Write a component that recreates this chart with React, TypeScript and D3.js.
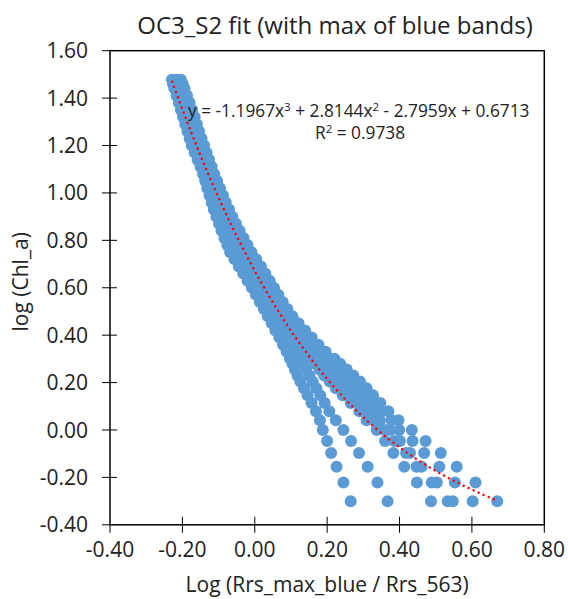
import React from "react";
import * as d3 from "d3";

// log(Chl_a) levels (shared by every branch of points)
const logChl = [
  -0.301, -0.222, -0.155, -0.097, -0.046, 0.0, 0.041, 0.079, 0.114, 0.146, 0.176, 0.204, 0.23, 0.255, 0.279, 0.301,
  0.33, 0.36, 0.39, 0.42, 0.45, 0.48, 0.51, 0.54, 0.57, 0.6,
  0.63, 0.66, 0.69, 0.72, 0.75, 0.78, 0.81, 0.84, 0.87, 0.9, 0.93, 0.96, 0.99, 1.02, 1.05,
  1.08, 1.11, 1.14, 1.17, 1.2, 1.23, 1.26, 1.29, 1.32, 1.35, 1.38, 1.41, 1.44, 1.46, 1.477,
];

// Log(Rrs_max_blue / Rrs_563) for each branch of the point cloud, one value per level (null = no point)
const branchA = [
  0.265, 0.245, 0.226, 0.211, 0.2, 0.188, 0.18, 0.169, 0.157, 0.146, 0.136, 0.126, 0.118, 0.111, 0.104, 0.097,
  0.088, 0.078, 0.068, 0.057, 0.047, 0.036, 0.025, 0.014, 0.003, -0.008,
  -0.02, -0.032, -0.044, -0.056, -0.068, -0.076, -0.084, -0.092, -0.099, -0.106, -0.113, -0.119, -0.125, -0.131, -0.137,
  -0.143, -0.15, -0.158, -0.166, -0.174, -0.18, -0.186, -0.192, -0.198, -0.204, -0.21, -0.216, -0.222, -0.226, -0.229,
];
const branchB = [
  0.367, 0.339, 0.312, 0.288, 0.266, 0.245, 0.224, 0.206, 0.193, 0.181, 0.17, 0.16, 0.151, 0.142, 0.133, 0.126,
  0.116, 0.106, 0.098, 0.084, 0.072, 0.059, 0.047, 0.035, 0.024, 0.012,
  null, null, null, null, null, null, null, null, null, null, null, null, null, null, null,
  null, null, null, null, null, null, null, null, null, null, null, null, null, null, null,
];
const branchC = [
  0.487, 0.448, 0.413, 0.383, 0.36, 0.337, 0.309, 0.289, 0.265, 0.243, 0.224, 0.207, 0.192, 0.179, 0.167, 0.157,
  0.144, 0.132, null, null, null, null, null, null, null, null,
  0.01, -0.002, -0.014, -0.026, -0.039, -0.048, -0.058, -0.067, -0.076, -0.084, -0.092, -0.1, -0.107, -0.114, -0.121,
  -0.128, -0.135, -0.142, -0.15, -0.157, -0.164, -0.17, -0.176, -0.182, -0.189, -0.195, -0.202, -0.208, -0.213, -0.217,
];
const branchD = [
  0.533, 0.489, 0.447, 0.418, 0.386, 0.36, 0.332, 0.307, 0.288, 0.27, 0.254, 0.239, 0.222, 0.207, 0.194, 0.182,
  0.167, 0.152, 0.127, 0.112, 0.096, 0.081, 0.068, 0.056, 0.044, 0.033,
  null, null, null, null, null, null, null, null, null, null, null, null, null, null, null,
  null, null, null, null, null, null, null, null, null, null, null, null, null, null, null,
];
const branchE = [
  0.547, 0.503, 0.461, 0.429, 0.401, 0.374, 0.346, 0.321, 0.302, 0.285, 0.269, 0.254, 0.238, 0.223, 0.209, 0.196,
  0.18, 0.163, null, null, null, null, null, null, null, null,
  null, null, null, null, null, null, null, null, null, null, null, null, null, null, null,
  null, null, null, null, null, null, null, null, null, null, null, null, null, null, null,
];
const branchF = [
  0.602, 0.553, 0.51, 0.468, 0.436, 0.399, 0.378, 0.346, 0.325, 0.306, 0.289, 0.273, 0.256, 0.239, 0.223, 0.208,
  0.188, 0.17, null, null, null, null, null, null, null, null,
  null, null, null, null, null, null, null, null, null, null, null, null, null, null, null,
  null, null, null, null, null, null, null, null, null, null, null, null, null, null, null,
];
const branchG = [
  0.67, 0.61, 0.558, 0.514, 0.472, 0.434, 0.397, 0.369, 0.347, 0.327, 0.309, 0.291, 0.272, 0.254, 0.236, 0.22,
  0.196, 0.176, 0.157, 0.139, 0.121, 0.104, 0.09, 0.077, 0.065, 0.053,
  0.041, 0.029, 0.017, 0.004, -0.009, -0.02, -0.031, -0.042, -0.052, -0.062, -0.071, -0.08, -0.088, -0.096, -0.104,
  -0.112, -0.119, -0.126, -0.133, -0.14, -0.147, -0.154, -0.16, -0.166, -0.173, -0.18, -0.187, -0.194, -0.199, -0.204,
];

// polynomial trendline coefficients: x^3, x^2, x, constant
const trendCoef = [-1.1967, 2.8144, -2.7959, 0.6713];
const rSquared = "0.9738";

const xTicks = [-0.4, -0.2, 0.0, 0.2, 0.4, 0.6, 0.8];
const yTicks = [-0.4, -0.2, 0.0, 0.2, 0.4, 0.6, 0.8, 1.0, 1.2, 1.4, 1.6];

const titleText = "OC3_S2 fit (with max of blue bands)";
const xTitle = "Log (Rrs_max_blue / Rrs_563)";
const yTitle = "log (Chl_a)";

const W = 568;
const H = 599;
const plot = { left: 110, right: 544.3, top: 50.7, bottom: 524.8 };
const FONT = "'Open Sans', 'Noto Sans', sans-serif";
const TEXT = "#222";
const BLUE = "#5b9bd5";

export default function App() {
  const x = d3.scaleLinear().domain([-0.4, 0.8]).range([plot.left, plot.right]);
  const y = d3.scaleLinear().domain([-0.4, 1.6]).range([plot.bottom, plot.top]);

  const branches = [branchA, branchB, branchC, branchD, branchE, branchF, branchG];
  const points: { x: number; y: number }[] = [];
  branches.forEach((br) => {
    br.forEach((v, i) => {
      if (v !== null && v !== undefined) points.push({ x: v as number, y: logChl[i] });
    });
  });

  const xs = points.map((p) => p.x);
  const xMin = d3.min(xs) as number;
  const xMax = d3.max(xs) as number;
  const poly = (v: number) => trendCoef[0] * v * v * v + trendCoef[1] * v * v + trendCoef[2] * v + trendCoef[3];
  const trendPts: [number, number][] = d3.range(0, 201).map((k) => {
    const v = xMin + ((xMax - xMin) * k) / 200;
    return [v, poly(v)];
  });
  const line = d3
    .line<[number, number]>()
    .x((d) => x(d[0]))
    .y((d) => y(d[1]));

  const fmt = (t: number) => t.toFixed(2);

  return (
    <div style={{ position: "absolute", left: 0, top: 0 }}>
      <svg width={W} height={H} style={{ display: "block", background: "#fff" }} fontFamily={FONT}>
        <rect x={0} y={0} width={W} height={H} fill="#fff" />
        <text x={335} y={34} textAnchor="middle" fontSize={24} fill={TEXT}>
          {titleText}
        </text>

        {/* points */}
        <g fill={BLUE}>
          {points.map((p, i) => (
            <circle key={i} cx={x(p.x)} cy={y(p.y)} r={6} />
          ))}
        </g>

        {/* trendline */}
        <path
          d={line(trendPts) || ""}
          fill="none"
          stroke="#ff0000"
          strokeWidth={2.2}
          strokeDasharray="2.2 3.3"
        />

        {/* frame */}
        <rect
          x={plot.left}
          y={plot.top}
          width={plot.right - plot.left}
          height={plot.bottom - plot.top}
          fill="none"
          stroke="#000"
          strokeWidth={1.5}
        />

        {/* y ticks */}
        {yTicks.map((t) => (
          <g key={"y" + t}>
            <line x1={plot.left - 8} x2={t === 1.6 || t === -0.4 ? plot.left : plot.left + 7} y1={y(t)} y2={y(t)} stroke="#000" strokeWidth={1} />
            <text x={88} y={y(t)} dy="0.36em" textAnchor="end" fontSize={21} fill={TEXT}>
              {fmt(t)}
            </text>
          </g>
        ))}

        {/* x ticks */}
        {xTicks.map((t) => (
          <g key={"x" + t}>
            <line x1={x(t)} x2={x(t)} y1={t === -0.4 || t === 0.8 ? plot.bottom : plot.bottom - 8} y2={plot.bottom + 8} stroke="#000" strokeWidth={1} />
            <text x={x(t)} y={557} textAnchor="middle" fontSize={21} fill={TEXT}>
              {fmt(t)}
            </text>
          </g>
        ))}

        <text x={(plot.left + plot.right) / 2} y={592} textAnchor="middle" fontSize={21} fill={TEXT}>
          {xTitle}
        </text>
        <text
          transform={`translate(28, ${(plot.top + plot.bottom) / 2 - 6}) rotate(-90)`}
          textAnchor="middle"
          fontSize={21}
          fill={TEXT}
        >
          {yTitle}
        </text>

        {/* equation */}
        <text x={188} y={117} fontSize={17.3} fill={TEXT}>
          <tspan>y = -1.1967x</tspan>
          <tspan dy={-6} fontSize={11.5}>3</tspan>
          <tspan dy={6}> + 2.8144x</tspan>
          <tspan dy={-6} fontSize={11.5}>2</tspan>
          <tspan dy={6}> - 2.7959x + 0.6713</tspan>
        </text>
        <text x={315} y={139} fontSize={17.3} fill={TEXT}>
          <tspan>R</tspan>
          <tspan dy={-6} fontSize={11.5}>2</tspan>
          <tspan dy={6}>{" = " + rSquared}</tspan>
        </text>
      </svg>
    </div>
  );
}
